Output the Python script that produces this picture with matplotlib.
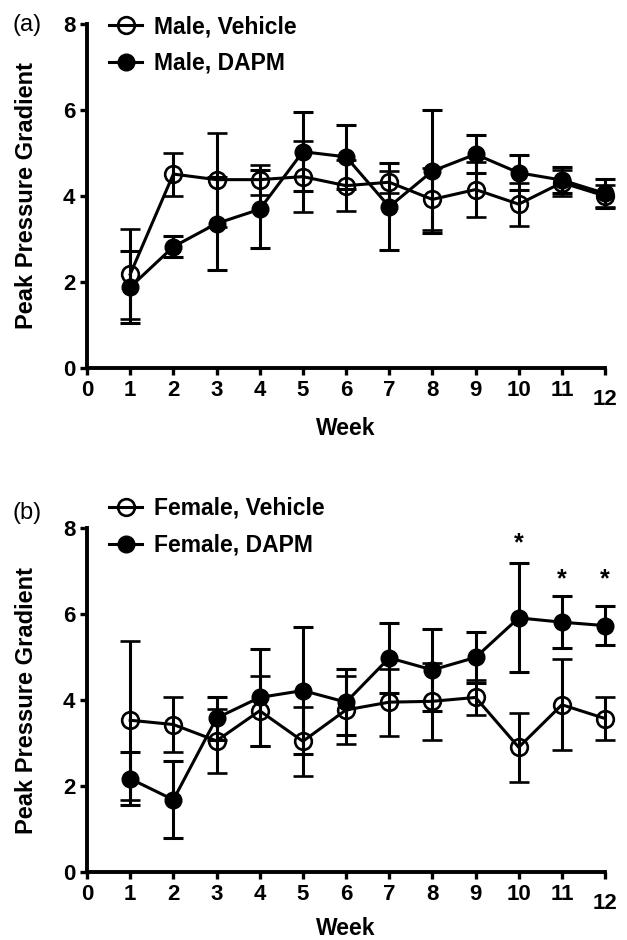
import matplotlib
matplotlib.use("Agg")
from matplotlib import pyplot as plt
from matplotlib.lines import Line2D

plt.rcParams['font.family'] = ['Liberation Sans', 'DejaVu Sans']

weeks = [1, 2, 3, 4, 5, 6, 7, 8, 9, 10, 11, 12]

# panel (a) males
male_veh = [2.18, 4.51, 4.38, 4.38, 4.45, 4.24, 4.32, 3.92, 4.15, 3.81, 4.31, 4.00]
male_veh_err = [1.05, 0.50, 1.09, 0.35, 0.83, 0.60, 0.26, 0.72, 0.64, 0.50, 0.30, 0.25]
male_dapm = [1.88, 2.82, 3.36, 3.69, 5.03, 4.91, 3.75, 4.58, 4.97, 4.54, 4.37, 4.06]
male_dapm_err = [0.84, 0.25, 1.08, 0.91, 0.92, 0.74, 1.01, 1.43, 0.44, 0.41, 0.30, 0.33]

# panel (b) females
fem_veh = [3.53, 3.43, 3.05, 3.75, 3.04, 3.77, 3.95, 3.97, 4.06, 2.90, 3.89, 3.57]
fem_veh_err = [1.85, 0.63, 0.74, 0.82, 0.80, 0.80, 0.78, 0.90, 0.40, 0.80, 1.06, 0.50]
fem_dapm = [2.17, 1.68, 3.58, 4.06, 4.22, 3.95, 4.98, 4.70, 4.99, 5.91, 5.81, 5.73]
fem_dapm_err = [0.62, 0.90, 0.50, 1.13, 1.47, 0.76, 0.82, 0.95, 0.60, 1.27, 0.60, 0.45]

star_weeks = [10, 11, 12]
star_y = [7.65, 6.8, 6.8]

fig = plt.figure(figsize=(6.27, 9.4), dpi=100)
ax_a = fig.add_axes([0.1388, 0.6085, 0.8262, 0.366])
ax_b = fig.add_axes([0.1388, 0.0723, 0.8262, 0.366])

lw = 2.2
ms = 12


def draw(ax, veh, veh_err, dapm, dapm_err, lab_veh, lab_dapm, legend_top, week_y):
    ax.errorbar(weeks, dapm, yerr=dapm_err, color='black', lw=lw, elinewidth=lw,
                capsize=7, capthick=lw, marker='o', ms=ms, mfc='black', mec='black',
                clip_on=False, zorder=3)
    ax.errorbar(weeks, veh, yerr=veh_err, color='black', lw=lw, elinewidth=lw,
                capsize=7, capthick=lw, marker='o', ms=ms, mfc='none', mec='black',
                mew=1.9, clip_on=False, zorder=4)
    ax.set_xlim(0, 12)
    ax.set_ylim(0, 8)
    ax.spines['top'].set_visible(False)
    ax.spines['right'].set_visible(False)
    ax.spines['left'].set_linewidth(2.8)
    ax.spines['bottom'].set_linewidth(2.8)
    ax.set_xticks(range(13))
    ax.set_yticks([0, 2, 4, 6, 8])
    ax.tick_params(width=2.4, length=5, labelsize=16)
    for t in ax.get_xticklabels() + ax.get_yticklabels():
        t.set_fontweight('bold')
    ax.get_xticklabels()[-1].set_y(-0.026)
    ax.set_xlabel('Week', fontsize=16.5, fontweight='bold', va='top')
    ax.xaxis.set_label_coords(0.5, week_y)
    ax.set_ylabel('Peak Pressure Gradient', fontsize=17, fontweight='bold')
    ax.yaxis.set_label_coords(-0.095, 0.5)

    handles = [
        Line2D([], [], color='black', lw=lw, marker='o', ms=ms, mfc='none',
               mec='black', mew=1.9),
        Line2D([], [], color='black', lw=lw, marker='o', ms=ms, mfc='black',
               mec='black'),
    ]
    ax.legend(handles, [lab_veh, lab_dapm], loc='upper left',
              bbox_to_anchor=(109 / 627, legend_top), bbox_transform=fig.transFigure,
              frameon=False, prop={'weight': 'bold', 'size': 16.5},
              handlelength=1.45, handletextpad=0.5, labelspacing=0.6,
              borderpad=0, borderaxespad=0)


draw(ax_a, male_veh, male_veh_err, male_dapm, male_dapm_err,
     'Male, Vehicle', 'Male, DAPM', 0.984, -0.142)
draw(ax_b, fem_veh, fem_veh_err, fem_dapm, fem_dapm_err,
     'Female, Vehicle', 'Female, DAPM', 0.4713, -0.13)

for x, y in zip(star_weeks, star_y):
    ax_b.text(x, y, '*', ha='center', va='center', fontsize=18, fontweight='bold')

fig.text(0.0207, 0.9734, '(a)', fontsize=17, va='center')
fig.text(0.0207, 0.4543, '(b)', fontsize=17, va='center')

fig.savefig('out.png', dpi=100)
